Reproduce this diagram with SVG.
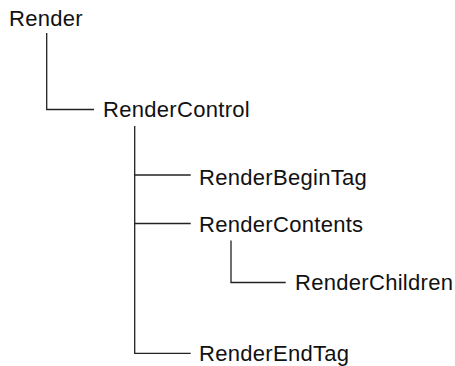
<svg xmlns="http://www.w3.org/2000/svg" width="455" height="366" viewBox="0 0 455 366">
<style>
.t{font-family:"Liberation Sans",Arial,sans-serif;font-size:22px;letter-spacing:0.3px;fill:#111}
.c{fill:none;stroke:#222;stroke-width:1.3}
</style>
<rect width="455" height="366" fill="#fff"/>
<g id="connectors">
<path class="c" d="M46.7,33 V109.5 H94"/>
<path class="c" d="M134.7,126 V353.3 H190.7"/>
<path class="c" d="M134.7,175 H190.7"/>
<path class="c" d="M134.7,223.5 H190.7"/>
<path class="c" d="M231,240.5 V282.5 H285.7"/>
</g>
<g id="render"><text class="t" x="9" y="26">Render</text></g>
<g id="renderControl"><text class="t" x="103" y="117">RenderControl</text></g>
<g id="renderBeginTag"><text class="t" x="199" y="185">RenderBeginTag</text></g>
<g id="renderContents"><text class="t" x="199" y="232">RenderContents</text></g>
<g id="renderChildren"><text class="t" x="295" y="290">RenderChildren</text></g>
<g id="renderEndTag"><text class="t" x="199" y="361">RenderEndTag</text></g>
</svg>
